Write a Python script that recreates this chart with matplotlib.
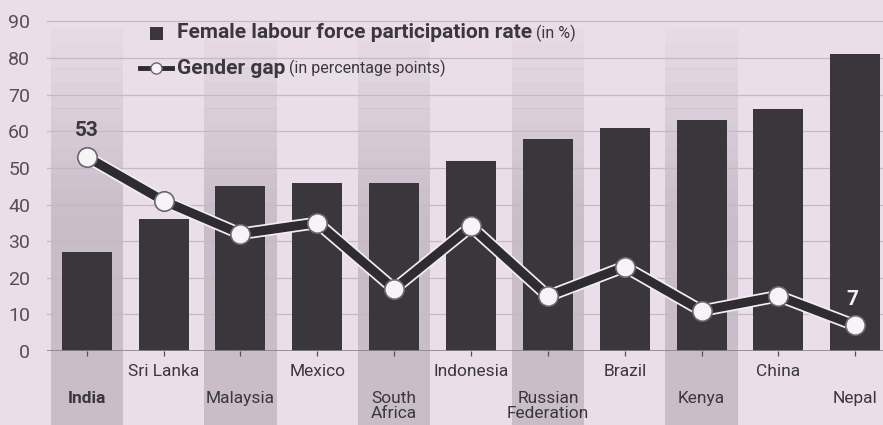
import matplotlib
matplotlib.use("Agg")
import matplotlib.pyplot as plt
import matplotlib.patheffects as pe
from matplotlib.patches import Rectangle
from matplotlib.lines import Line2D

plt.rcParams['font.family'] = ['Roboto', 'DejaVu Sans']

countries = ["India", "Sri Lanka", "Malaysia", "Mexico", "South\nAfrica", "Indonesia",
             "Russian\nFederation", "Brazil", "Kenya", "China", "Nepal"]
participation = [27, 36, 45, 46, 46, 52, 58, 61, 63, 66, 81]
gender_gap = [53, 41, 32, 35, 17, 34, 15, 23, 11, 15, 7]
shaded = [0, 2, 4, 6, 8]          # columns with grey band + tick line
lower_row = [0, 2, 4, 6, 8, 10]   # labels set on the lower row

bg = "#eadeea"
band = "#c9bdc9"
bar_col = "#3a373c"
txt = "#3a383c"

fig = plt.figure(figsize=(8.83, 4.25), dpi=100, facecolor=bg)
ax = fig.add_axes([0.053, 0.174, 0.947, 0.793], facecolor=bg)
x = list(range(len(countries)))
ax.set_xlim(-0.52, 10.36)
ax.set_ylim(0, 92)

# shaded bands, fading towards the top
n = 30
for i in shaded:
    for k in range(n):
        y0 = -21 + k * (109 / n)
        a = 1.0 if y0 < 35 else max(0.0, 1 - (y0 - 35) / 55)
        ax.add_patch(Rectangle((i - 0.47, y0), 0.94, 109 / n + 0.05, facecolor=band,
                               edgecolor='none', alpha=a, clip_on=False, zorder=0))

for v in range(10, 100, 10):
    ax.axhline(v, color="#c4bac4", lw=0.9, zorder=1)

ax.bar(x, participation, width=0.65, color=bar_col, zorder=2)
ax.axhline(0, color="#8a828a", lw=1.2, zorder=3)

ax.plot(x, gender_gap, color="#2e2c30", lw=6.5, zorder=4, solid_joinstyle='miter',
        path_effects=[pe.Stroke(linewidth=9, foreground="#f4eef4"), pe.Normal()])
ax.plot(x, gender_gap, 'o', ms=14, mfc="#f7f4f7", mec="#6a666b", mew=1.2, zorder=5)

ax.annotate("53", (0, gender_gap[0]), xytext=(0, 12), textcoords='offset points',
            ha='center', va='bottom', fontsize=15, fontweight='bold', color=txt)
ax.annotate("7", (10, gender_gap[10]), xytext=(-2, 12), textcoords='offset points',
            ha='center', va='bottom', fontsize=15, fontweight='bold', color="#f4f0f4")

for s in ax.spines.values():
    s.set_visible(False)

ax.set_yticks(range(0, 100, 10))
ax.tick_params(axis='y', length=0, pad=12, labelsize=14, labelcolor="#555058")
ax.set_xticks(x)
ax.set_xticklabels(countries, fontsize=12.5, color=txt, linespacing=1.05)
ax.tick_params(axis='x', color="#555058", width=0.9)
for i, (tick, lab) in enumerate(zip(ax.xaxis.get_major_ticks(), ax.get_xticklabels())):
    tick.tick1line.set_markersize(25 if i in shaded else 0)
    tick.set_pad(25 if i in lower_row else 6)
    if i == 0:
        lab.set_fontweight('bold')

# legend drawn by hand
fig.patches.append(Rectangle((150 / 883, 1 - 40 / 425), 13 / 883, 13 / 425,
                             transform=fig.transFigure, facecolor=bar_col, edgecolor='none'))
t1 = fig.text(177 / 883, 1 - 33 / 425, "Female labour force participation rate",
              fontsize=15, fontweight='bold', color=txt, va='center')
ax.annotate(" (in %)", xy=(1, 0.5), xycoords=t1, va='center', fontsize=11.5, color=txt,
            annotation_clip=False)
fig.lines.append(Line2D([140 / 883, 172 / 883], [1 - 68 / 425] * 2, transform=fig.transFigure,
                        color="#2e2c30", lw=3.5))
fig.lines.append(Line2D([156 / 883], [1 - 68 / 425], transform=fig.transFigure, marker='o',
                        ms=8, mfc="#f7f4f7", mec="#6a666b", mew=1))
t2 = fig.text(177 / 883, 1 - 68 / 425, "Gender gap", fontsize=15, fontweight='bold',
              color=txt, va='center')
ax.annotate(" (in percentage points)", xy=(1, 0.5), xycoords=t2, va='center', fontsize=11.5,
            color=txt, annotation_clip=False)

fig.savefig("out.png", dpi=100, facecolor=bg)
